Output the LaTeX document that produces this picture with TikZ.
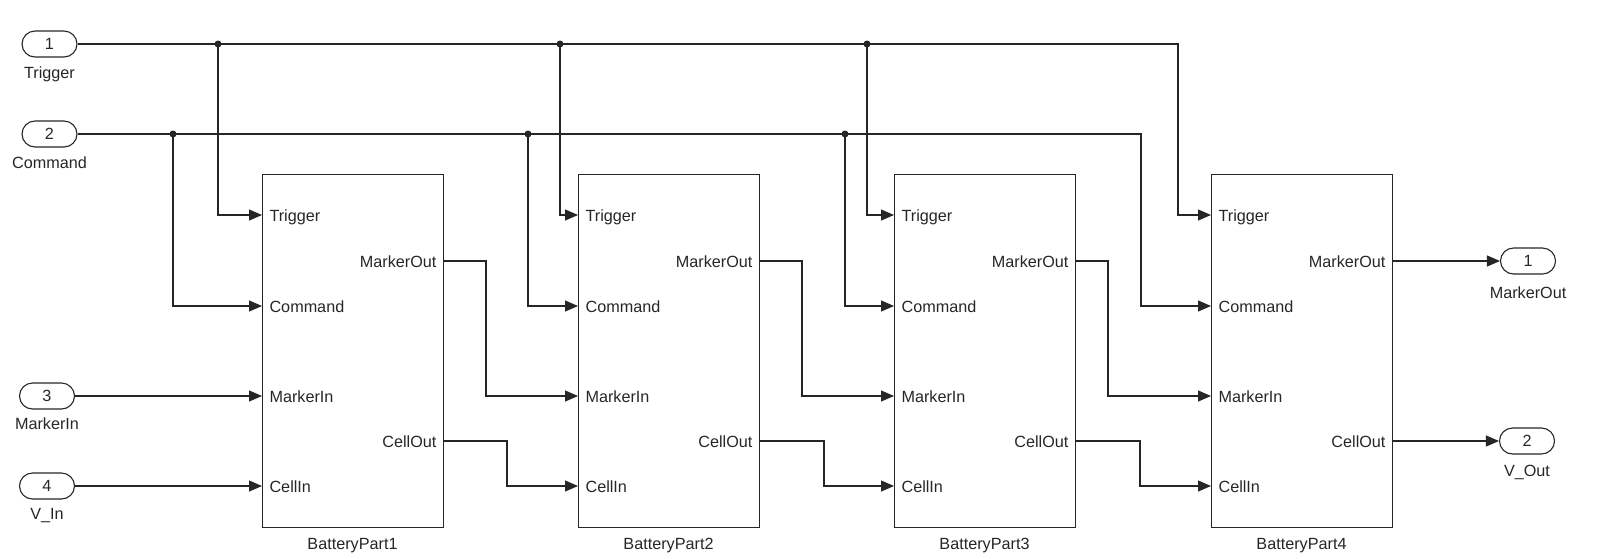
\documentclass[tikz,border=0pt]{standalone}
\usepackage{fontspec}
\setmainfont{Liberation Sans}
\usetikzlibrary{arrows.meta,calc}

\begin{document}
\begin{tikzpicture}[x=1pt,y=-1pt,color=black!85,line width=1.1pt,
    font=\fontsize{16.2}{18}\selectfont,
    sig/.style={-{Triangle[length=13pt,width=11pt]}},
    port/.style={draw,rounded corners=13pt,minimum width=55pt,minimum height=26pt,inner sep=0pt},
    blk/.style={draw,line width=1.3pt,minimum width=181pt,minimum height=353pt,anchor=north west,inner sep=0pt},
    lbl/.style={inner sep=0pt},
    tap/.style={circle,fill=black!85,inner sep=0pt,minimum size=7pt}]
  \useasboundingbox (0,0) rectangle (1600,558);

  % subsystems
  \foreach \i/\x in {1/262,2/578,3/894,4/1211}{
    \node[blk] (bp\i) at (\x,174) {};
    \coordinate (b\i-tr) at (\x,215);
    \coordinate (b\i-cm) at (\x,306);
    \coordinate (b\i-mi) at (\x,396);
    \coordinate (b\i-ci) at (\x,486);
    \coordinate (b\i-mo) at (\x+181,261);
    \coordinate (b\i-co) at (\x+181,441);
    \node[lbl,anchor=base west] (lt\i) at (\x+7,221) {Trigger};
    \node[lbl,anchor=base west] (lc\i) at (\x+7,312) {Command};
    \node[lbl,anchor=base west] (lm\i) at (\x+7,402) {MarkerIn};
    \node[lbl,anchor=base west] (lv\i) at (\x+7,492) {CellIn};
    \node[lbl,anchor=base east] (lo\i) at (\x+175,267) {MarkerOut};
    \node[lbl,anchor=base east] (lw\i) at (\x+175,447) {CellOut};
    \node[lbl,anchor=base] (bn\i) at (\x+90.5,549) {BatteryPart\i};
  }

  % ports
  \node[port] (in1) at (49.5,44) {1};
  \node[port] (in2) at (49.5,134) {2};
  \node[port] (in3) at (47,396) {3};
  \node[port] (in4) at (47,486) {4};
  \node[lbl,anchor=base] (in1l) at (49.5,78) {Trigger};
  \node[lbl,anchor=base] (in2l) at (49.5,168) {Command};
  \node[lbl,anchor=base] (in3l) at (47,429) {MarkerIn};
  \node[lbl,anchor=base] (in4l) at (47,519) {V\_In};
  \node[port] (out1) at (1528,261) {1};
  \node[port] (out2) at (1527,441) {2};
  \node[lbl,anchor=base] (out1l) at (1528,298) {MarkerOut};
  \node[lbl,anchor=base] (out2l) at (1527,476) {V\_Out};

  % buses
  \draw[sig] (in1.east) -| ([xshift=-33pt]b4-tr) -- (b4-tr);
  \draw[sig] (in2.east) -| ([xshift=-70pt]b4-cm) -- (b4-cm);
  \node[tap] (t1) at (218,44) {};
  \node[tap] (t2) at (560,44) {};
  \node[tap] (t3) at (867,44) {};
  \node[tap] (c1) at (173,134) {};
  \node[tap] (c2) at (528,134) {};
  \node[tap] (c3) at (845,134) {};
  \foreach \i in {1,2,3}{
    \draw[sig] (t\i.center) |- (b\i-tr);
    \draw[sig] (c\i.center) |- (b\i-cm);
  }

  % chain
  \draw[sig] (in3.east) -- (b1-mi);
  \draw[sig] (in4.east) -- (b1-ci);
  \draw[sig] (b1-mo) -- (486,261) |- (b2-mi);
  \draw[sig] (b2-mo) -- (802,261) |- (b3-mi);
  \draw[sig] (b3-mo) -- (1108,261) |- (b4-mi);
  \draw[sig] (b1-co) -- (507,441) |- (b2-ci);
  \draw[sig] (b2-co) -- (824,441) |- (b3-ci);
  \draw[sig] (b3-co) -- (1140,441) |- (b4-ci);
  \draw[sig] (b4-mo) -- (out1.west);
  \draw[sig] (b4-co) -- (out2.west);
\end{tikzpicture}
\end{document}
